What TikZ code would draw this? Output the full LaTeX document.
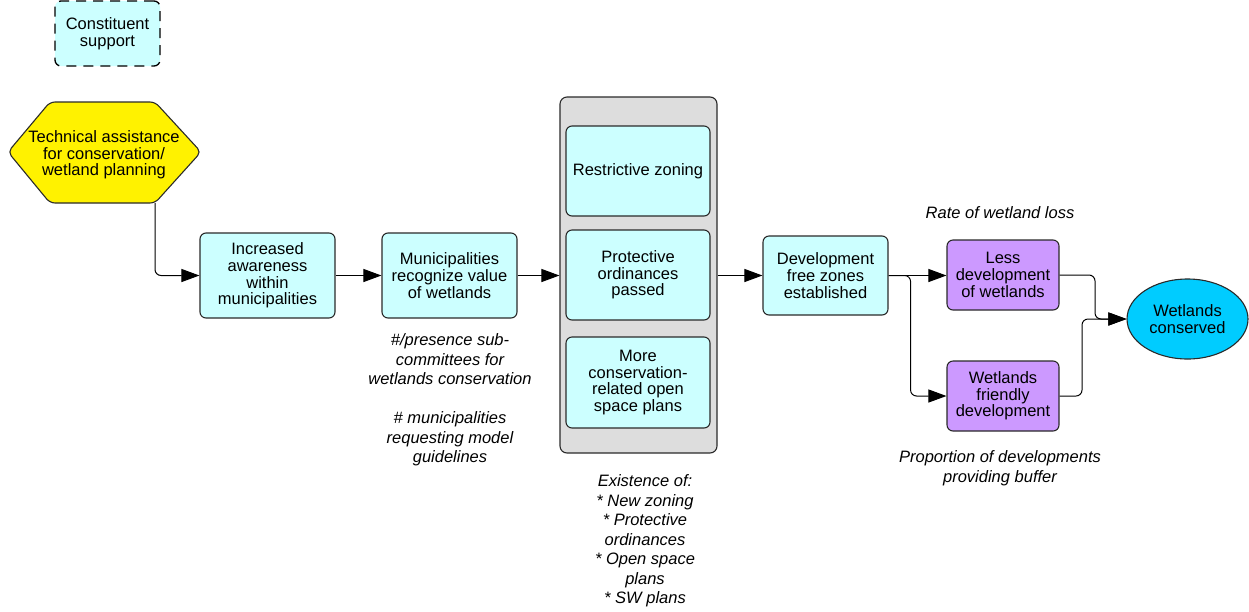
\documentclass[tikz,border=0pt]{standalone}
\usepackage{fontspec}
\setmainfont{Liberation Sans}
\usetikzlibrary{arrows.meta,shapes.geometric}
\definecolor{cyanbox}{HTML}{CCFFFF}
\definecolor{graybox}{HTML}{DDDDDD}
\definecolor{purplebox}{HTML}{CC99FF}
\definecolor{ellblue}{HTML}{00CCFF}
\definecolor{edge}{HTML}{2A2A2A}
\tikzset{
  box/.style={draw=edge, line width=1.1pt, rounded corners=6pt, align=center, inner sep=0pt,
    font=\fontsize{16.5}{16.7}\selectfont},
  cbox/.style={box, fill=cyanbox},
  pbox/.style={box, fill=purplebox},
  note/.style={align=center, inner sep=0pt, font=\fontsize{16.5}{19.5}\selectfont\itshape},
  conn/.style={line width=1pt, black, rounded corners=6pt},
  arr/.style={conn, -{Triangle[length=18pt,width=13pt]}},
}
\begin{document}
\begin{tikzpicture}[x=1pt,y=-1pt]
\useasboundingbox (0,0) rectangle (1249,611);
% Constituent support
\node[cbox, draw=black, line width=1.3pt, dash pattern=on 10pt off 7pt, minimum width=105pt, minimum height=65pt] (cons) at (107.5,33.5) {Constituent\\support};
% Hexagon
\draw[fill=yellow, draw=edge, line width=1.1pt, rounded corners=5pt]
  (8,152) -- (50,102) -- (155,102) -- (201,152) -- (155,203) -- (50,203) -- cycle;
\coordinate (techbr) at (155,203);
\node[align=center, inner sep=0pt, font=\fontsize{16.5}{16.7}\selectfont] (tech) at (104,155) {Technical assistance\\for conservation/\\wetland planning};
% chain
\node[cbox, minimum width=135pt, minimum height=85pt] (aware) at (267.5,275.5) {Increased\\awareness\\within\\municipalities};
\node[cbox, minimum width=135pt, minimum height=85pt] (muni) at (449.5,275.5) {Municipalities\\recognize value\\of wetlands};
\node[draw=edge, line width=1.1pt, fill=graybox, rounded corners=7pt, minimum width=157pt, minimum height=356pt, inner sep=0pt] (group) at (638.5,275) {};
\node[cbox, minimum width=144pt, minimum height=90pt] (zon) at (638,171) {Restrictive zoning};
\node[cbox, minimum width=144pt, minimum height=90pt] (prot) at (638,275) {Protective\\ordinances\\passed};
\node[cbox, minimum width=144pt, minimum height=91pt] (open) at (638,382.5) {More\\conservation-\\related open\\space plans};
\node[cbox, minimum width=125pt, minimum height=79pt] (dev) at (825.5,275.5) {Development\\free zones\\established};
\node[pbox, minimum width=112pt, minimum height=70pt] (less) at (1003,275) {Less\\development\\of wetlands};
\node[pbox, minimum width=112pt, minimum height=70pt] (friendly) at (1003,396) {Wetlands\\friendly\\development};
\node[ellipse, draw=edge, line width=1.1pt, fill=ellblue, minimum width=121pt, minimum height=80pt, inner sep=0pt, align=center, font=\fontsize{16.5}{16.7}\selectfont] (cons2) at (1187.5,319) {Wetlands\\conserved};
% notes
\node[note] (rate) at (1000,213) {Rate of wetland loss};
\node[note] (mnote) at (450,400) {\#/presence sub-\\committees for\\wetlands conservation\\[19.5pt]\# municipalities\\requesting model\\guidelines};
\node[note] (enote) at (645,541) {Existence of:\\* New zoning\\* Protective\\ordinances\\* Open space\\plans\\* SW plans};
\node[note] (pnote) at (1000,468) {Proportion of developments\\providing buffer};
% connectors
\draw[arr] (techbr) |- (aware.west);
\draw[arr] (aware.east) -- (muni.west);
\draw[arr] (muni.east) -- (group.west |- muni.east);
\draw[arr] (group.east |- dev.west) -- (dev.west);
\draw[arr] (dev.east) -- (less.west |- dev.east);
\draw[arr] (dev.east) -- ++(22,0) |- (friendly.west);
\draw[arr] (less.east) -- (1095,275) |- (cons2.west);
\draw[arr] (friendly.east) -- (1082,396) |- (cons2.west);
\end{tikzpicture}
\end{document}
